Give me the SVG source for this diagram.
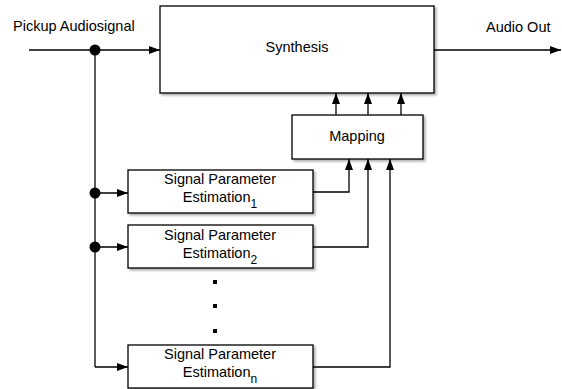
<svg xmlns="http://www.w3.org/2000/svg" width="562" height="389" viewBox="0 0 562 389">
  <defs>
    <filter id="shadow" x="-10%" y="-10%" width="130%" height="140%">
      <feDropShadow dx="2" dy="2" stdDeviation="1.3" flood-color="#000" flood-opacity="0.3"/>
    </filter>
    <marker id="arrow" viewBox="0 0 11 8" refX="11" refY="4" markerWidth="11" markerHeight="8" markerUnits="userSpaceOnUse" orient="auto">
      <path d="M0,0 L11,4 L0,8 z" fill="#000"/>
    </marker>
  </defs>
  <style>
    .box { fill: #fff; stroke: #000; stroke-width: 1.3; filter: url(#shadow); }
    .wire { fill: none; stroke: #000; stroke-width: 1.3; }
    .arr { marker-end: url(#arrow); }
    text { font-family: "Liberation Sans", Arial, Helvetica, sans-serif; font-size: 14.5px; fill: #000; }
    .mid { text-anchor: middle; }
    .sub { font-size: 12px; }
    .dot { fill: #000; }
  </style>

  <rect width="562" height="389" fill="#fff"/>

  <!-- free labels -->
  <text x="13" y="31">Pickup Audiosignal</text>
  <text x="486" y="32">Audio Out</text>

  <g id="synthesis">
    <rect class="box" x="160" y="6" width="274" height="87"/>
    <text class="mid" x="297" y="52">Synthesis</text>
  </g>

  <g id="mapping">
    <rect class="box" x="292" y="115" width="131" height="44"/>
    <text class="mid" x="357" y="141">Mapping</text>
  </g>

  <g id="spe1">
    <rect class="box" x="128" y="170" width="185" height="43"/>
    <text class="mid" x="220" y="184">Signal Parameter</text>
    <text class="mid" x="220" y="201.5">Estimation<tspan class="sub" dy="6">1</tspan></text>
  </g>

  <g id="spe2">
    <rect class="box" x="128" y="225" width="185" height="43"/>
    <text class="mid" x="220" y="240">Signal Parameter</text>
    <text class="mid" x="220" y="257.5">Estimation<tspan class="sub" dy="6">2</tspan></text>
  </g>

  <g id="spen">
    <rect class="box" x="128" y="345" width="185" height="43"/>
    <text class="mid" x="220" y="359">Signal Parameter</text>
    <text class="mid" x="220" y="376.5">Estimation<tspan class="sub" dy="6">n</tspan></text>
  </g>

  <g id="ellipsis">
    <rect class="dot" x="213" y="280" width="4" height="4"/>
    <rect class="dot" x="213" y="304" width="4" height="4"/>
    <rect class="dot" x="213" y="329" width="4" height="4"/>
  </g>

  <g id="connectors">
    <!-- audio in / out -->
    <path class="wire arr" d="M29,50 H160"/>
    <path class="wire arr" d="M434,50 H561"/>
    <!-- distribution bus -->
    <path class="wire" d="M95,50 V367"/>
    <path class="wire arr" d="M95,193 H128"/>
    <path class="wire arr" d="M95,247 H128"/>
    <path class="wire arr" d="M95,367 H128"/>
    <circle class="dot" cx="95" cy="50" r="5.5"/>
    <circle class="dot" cx="95" cy="193" r="5.5"/>
    <circle class="dot" cx="95" cy="247" r="5.5"/>
    <!-- estimators to mapping -->
    <path class="wire arr" d="M313,192 H349 V159"/>
    <path class="wire arr" d="M313,247 H368 V159"/>
    <path class="wire arr" d="M313,367 H390 V159"/>
    <!-- mapping to synthesis -->
    <path class="wire arr" d="M336,115 V93"/>
    <path class="wire arr" d="M368,115 V93"/>
    <path class="wire arr" d="M401,115 V93"/>
  </g>
</svg>
